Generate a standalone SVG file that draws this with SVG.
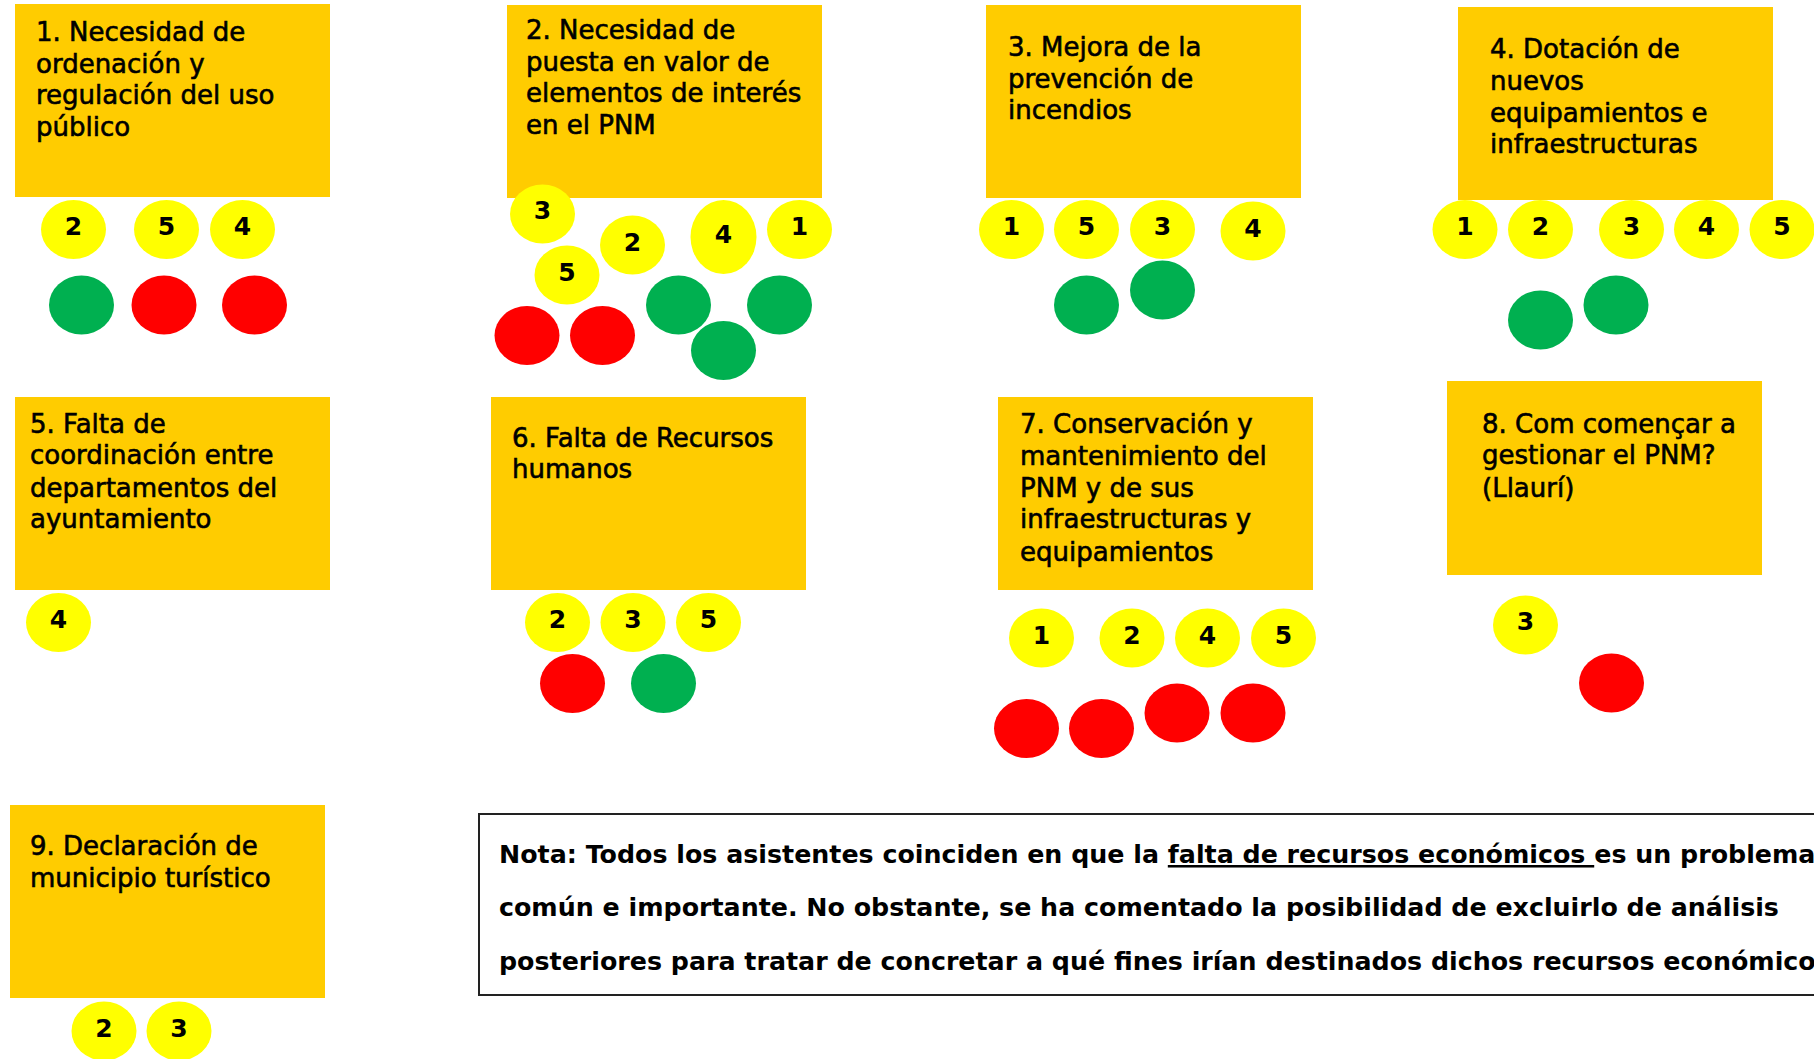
<svg xmlns="http://www.w3.org/2000/svg" width="1814" height="1059" viewBox="0 0 1814 1059">
<style>
.box{fill:#FFCC00}
.t{font-family:"DejaVu Sans",sans-serif;font-size:26px;fill:#000;stroke:#000;stroke-width:0.6}
.nt{font-family:"DejaVu Sans",sans-serif;font-size:25.3px;font-weight:bold;fill:#000}
.y{fill:#FFFF00}
.g{fill:#00B050}
.r{fill:#FF0000}
.n{font-family:"DejaVu Sans",sans-serif;font-size:25px;font-weight:bold;fill:#000;text-anchor:middle}
.note{fill:#fff;stroke:#222;stroke-width:2}
</style>
<defs>
<ellipse id="dot" cx="0" cy="0" rx="32.5" ry="29.5"/>
</defs>
<rect width="1814" height="1059" fill="#fff"/>

<g id="node1">
<rect class="box" x="15" y="4" width="315" height="193"/>
<text class="t"><tspan x="36" y="41">1. Necesidad de</tspan><tspan x="36" y="73">ordenación y</tspan><tspan x="36" y="104">regulación del uso</tspan><tspan x="36" y="136">público</tspan></text>
<use href="#dot" class="y" x="73.5" y="229.5"/><text class="n" x="73.5" y="235">2</text>
<use href="#dot" class="y" x="166.5" y="229.5"/><text class="n" x="166.5" y="235">5</text>
<use href="#dot" class="y" x="242.5" y="229.5"/><text class="n" x="242.5" y="235">4</text>
<use href="#dot" class="g" x="81.5" y="305"/>
<use href="#dot" class="r" x="164" y="305"/>
<use href="#dot" class="r" x="254.5" y="305"/>
</g>

<g id="node2">
<rect class="box" x="507" y="5" width="315" height="193"/>
<text class="t"><tspan x="526" y="39">2. Necesidad de</tspan><tspan x="526" y="71">puesta en valor de</tspan><tspan x="526" y="102">elementos de interés</tspan><tspan x="526" y="134">en el PNM</tspan></text>
<use href="#dot" class="y" x="542.5" y="214"/><text class="n" x="542.5" y="219">3</text>
<use href="#dot" class="y" x="632.5" y="245"/><text class="n" x="632.5" y="250.5">2</text>
<ellipse class="y" cx="723.5" cy="237" rx="33" ry="37"/><text class="n" x="723.5" y="243">4</text>
<use href="#dot" class="y" x="799.5" y="229.5"/><text class="n" x="799.5" y="235">1</text>
<use href="#dot" class="y" x="567" y="275"/><text class="n" x="567" y="280.5">5</text>
<use href="#dot" class="r" x="527" y="335.5"/>
<use href="#dot" class="r" x="602.5" y="335.5"/>
<use href="#dot" class="g" x="678.5" y="305"/>
<use href="#dot" class="g" x="779.5" y="305"/>
<use href="#dot" class="g" x="723.5" y="350.5"/>
</g>

<g id="node3">
<rect class="box" x="986" y="5" width="315" height="193"/>
<text class="t"><tspan x="1008" y="56">3. Mejora de la</tspan><tspan x="1008" y="88">prevención de</tspan><tspan x="1008" y="119">incendios</tspan></text>
<use href="#dot" class="y" x="1011.5" y="229.5"/><text class="n" x="1011.5" y="235">1</text>
<use href="#dot" class="y" x="1086.5" y="229.5"/><text class="n" x="1086.5" y="235">5</text>
<use href="#dot" class="y" x="1162.5" y="229.5"/><text class="n" x="1162.5" y="235">3</text>
<use href="#dot" class="y" x="1253" y="231"/><text class="n" x="1253" y="236.5">4</text>
<use href="#dot" class="g" x="1086.5" y="305"/>
<use href="#dot" class="g" x="1162.5" y="290"/>
</g>

<g id="node4">
<rect class="box" x="1458" y="7" width="315" height="193"/>
<text class="t"><tspan x="1490" y="58">4. Dotación de</tspan><tspan x="1490" y="90">nuevos</tspan><tspan x="1490" y="122">equipamientos e</tspan><tspan x="1490" y="153">infraestructuras</tspan></text>
<use href="#dot" class="y" x="1465" y="229.5"/><text class="n" x="1465" y="235">1</text>
<use href="#dot" class="y" x="1540.5" y="229.5"/><text class="n" x="1540.5" y="235">2</text>
<use href="#dot" class="y" x="1631.5" y="229.5"/><text class="n" x="1631.5" y="235">3</text>
<use href="#dot" class="y" x="1706.5" y="229.5"/><text class="n" x="1706.5" y="235">4</text>
<use href="#dot" class="y" x="1782" y="229.5"/><text class="n" x="1782" y="235">5</text>
<use href="#dot" class="g" x="1540.5" y="320"/>
<use href="#dot" class="g" x="1616" y="305"/>
</g>

<g id="node5">
<rect class="box" x="15" y="397" width="315" height="193"/>
<text class="t"><tspan x="30" y="433">5. Falta de</tspan><tspan x="30" y="464">coordinación entre</tspan><tspan x="30" y="497">departamentos del</tspan><tspan x="30" y="528">ayuntamiento</tspan></text>
<use href="#dot" class="y" x="58.5" y="622.5"/><text class="n" x="58.5" y="628">4</text>
</g>

<g id="node6">
<rect class="box" x="491" y="397" width="315" height="193"/>
<text class="t"><tspan x="512" y="447">6. Falta de Recursos</tspan><tspan x="512" y="478">humanos</tspan></text>
<use href="#dot" class="y" x="557.5" y="622.5"/><text class="n" x="557.5" y="628">2</text>
<use href="#dot" class="y" x="633" y="622.5"/><text class="n" x="633" y="628">3</text>
<use href="#dot" class="y" x="708.5" y="622.5"/><text class="n" x="708.5" y="628">5</text>
<use href="#dot" class="r" x="572.5" y="683.5"/>
<use href="#dot" class="g" x="663.5" y="683.5"/>
</g>

<g id="node7">
<rect class="box" x="998" y="397" width="315" height="193"/>
<text class="t"><tspan x="1020" y="433">7. Conservación y</tspan><tspan x="1020" y="465">mantenimiento del</tspan><tspan x="1020" y="497">PNM y de sus</tspan><tspan x="1020" y="528">infraestructuras y</tspan><tspan x="1020" y="561">equipamientos</tspan></text>
<use href="#dot" class="y" x="1041.5" y="638"/><text class="n" x="1041.5" y="643.5">1</text>
<use href="#dot" class="y" x="1132" y="638"/><text class="n" x="1132" y="643.5">2</text>
<use href="#dot" class="y" x="1207.5" y="638"/><text class="n" x="1207.5" y="643.5">4</text>
<use href="#dot" class="y" x="1283.5" y="638"/><text class="n" x="1283.5" y="643.5">5</text>
<use href="#dot" class="r" x="1026.5" y="728.5"/>
<use href="#dot" class="r" x="1101.5" y="728.5"/>
<use href="#dot" class="r" x="1177" y="713"/>
<use href="#dot" class="r" x="1253" y="713"/>
</g>

<g id="node8">
<rect class="box" x="1447" y="381" width="315" height="194"/>
<text class="t"><tspan x="1482" y="433">8. Com començar a</tspan><tspan x="1482" y="464">gestionar el PNM?</tspan><tspan x="1482" y="497">(Llaurí)</tspan></text>
<use href="#dot" class="y" x="1525.5" y="625"/><text class="n" x="1525.5" y="630">3</text>
<use href="#dot" class="r" x="1611.5" y="683"/>
</g>

<g id="node9">
<rect class="box" x="10" y="805" width="315" height="193"/>
<text class="t"><tspan x="30" y="855">9. Declaración de</tspan><tspan x="30" y="887">municipio turístico</tspan></text>
<use href="#dot" class="y" x="104" y="1031"/><text class="n" x="104" y="1036.5">2</text>
<use href="#dot" class="y" x="179" y="1031"/><text class="n" x="179" y="1036.5">3</text>
</g>

<g id="note">
<rect class="note" x="479" y="814" width="1360" height="181"/>
<text class="nt"><tspan x="499" y="863">Nota: Todos los asistentes coinciden en que la <tspan text-decoration="underline">falta de recursos económicos </tspan>es un problema</tspan><tspan x="499" y="916">común e importante. No obstante, se ha comentado la posibilidad de excluirlo de análisis</tspan><tspan x="499" y="970">posteriores para tratar de concretar a qué fines irían destinados dichos recursos económicos</tspan></text>
</g>

<g id="connectors"></g>
</svg>
